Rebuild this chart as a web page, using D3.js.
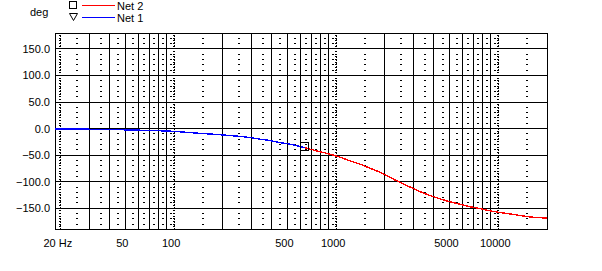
<!DOCTYPE html>
<html><head><meta charset="utf-8">
<script src="https://cdn.jsdelivr.net/npm/d3@7/dist/d3.min.js"></script>
<style>
body{margin:0;background:#fff}
svg{display:block}
text{font-family:"Liberation Sans",Arial,sans-serif;font-size:11px;fill:#000}
</style>
</head><body>
<svg id="c" width="602" height="271"></svg>
<script>
// ---- data ----
const net1Freq = [18.4, 38.6, 69, 100, 131, 197, 294, 339, 390, 449, 518, 597, 640];
const net1Deg  = [-0.5, -1.5, -3.4, -5.3, -8, -11.8, -16.9, -19.9, -22.6, -26.3, -29.3, -33.8, -36];
const net2Freq = [640, 757, 914, 1054, 1215, 1400, 1614, 1950, 2246, 2700, 3281, 3784, 4359, 5023, 5794, 6672, 7691, 8868, 10214, 11776, 13580, 15640, 20000];
const net2Deg  = [-36, -41.9, -48.1, -53.8, -60.7, -66.9, -74.5, -85, -95, -106.5, -118.4, -125.9, -132.2, -137.7, -142.5, -147, -150.6, -154.7, -157.9, -160.6, -163.5, -166.2, -168.4];
const xTickVals   = [20, 50, 100, 500, 1000, 5000, 10000];
const xTickLabels = ["20 Hz", "50", "100", "500", "1000", "5000", "10000"];
const yTickVals   = [150, 100, 50, 0, -50, -100, -150];
const solidFreqs  = [30,40,50,60,70,80,90,200,300,400,500,600,700,800,900,2000,3000,4000,5000,6000,7000,8000,9000];
const minorFreqs  = [25,35,45,55,65,75,85,95,150,250,350,450,550,650,750,850,950,1500,2500,3500,4500,5500,6500,7500,8500,9500,15000];
const denseFreqs  = [20,100,1000,10000];
const seriesNames = ["Net 2", "Net 1"];
const seriesColors = ["#ff0000", "#0000ff"];
const xDomain = [18.4, 20000];
const yDomain = [-190, 180];

// ---- chart ----
const svg = d3.select("#c");
const x = d3.scaleLog().domain(xDomain).range([55, 547]);
const y = d3.scaleLinear().domain(yDomain).range([229.5, 33]);
const px = v => Math.floor(v) + 0.5;
const [x0, x1] = x.range();
const yTop = y(yDomain[1]), yBot = y(yDomain[0]);

const grid = svg.append("g").attr("shape-rendering", "crispEdges");

// minor dotted lines: small dashes every 10 deg
const minorYs = d3.range(-180, 180, 10).filter(v => v % 50 !== 0);
minorFreqs.forEach(f => {
  minorYs.forEach(v => {
    grid.append("rect").attr("x", Math.floor(x(f))).attr("y", Math.floor(y(v)))
      .attr("width", 2).attr("height", 1).attr("fill", "#000");
  });
});
// dense lines (decades/start)
const denseYs = d3.range(-185, 180, 5).filter(v => v % 50 !== 0);
denseFreqs.forEach(f => {
  grid.append("line").attr("x1", px(x(f))).attr("x2", px(x(f)))
    .attr("y1", yTop).attr("y2", yBot).attr("stroke", "#000")
    .attr("stroke-width", 1).attr("stroke-dasharray", "1,2");
  denseYs.forEach(v => {
    grid.append("rect").attr("x", Math.floor(x(f)) - 1).attr("y", Math.floor(y(v)))
      .attr("width", 2).attr("height", 1).attr("fill", "#000");
  });
});
// solid vertical lines
grid.selectAll(".vs").data(solidFreqs).join("line")
  .attr("x1", d => px(x(d))).attr("x2", d => px(x(d)))
  .attr("y1", yTop).attr("y2", yBot).attr("stroke", "#000");
// horizontal lines
grid.selectAll(".hs").data(yTickVals).join("line")
  .attr("x1", x0).attr("x2", x1)
  .attr("y1", d => px(y(d))).attr("y2", d => px(y(d))).attr("stroke", "#000");
// frame
grid.append("rect").attr("x", px(x0)).attr("y", px(yTop))
  .attr("width", Math.floor(x1) - Math.floor(x0)).attr("height", Math.floor(yBot) - Math.floor(yTop))
  .attr("fill", "none").attr("stroke", "#000");

// y labels
svg.selectAll(".yl").data(yTickVals).join("text")
  .attr("x", 50).attr("y", d => y(d) + 4).attr("text-anchor", "end")
  .text(d => d3.format(".1f")(d));
// x labels
svg.selectAll(".xl").data(xTickVals).join("text")
  .attr("x", d => x(d) - 3).attr("y", 247).attr("text-anchor", "middle")
  .text((d, i) => xTickLabels[i]);

// curves
const line = d3.line().x(d => x(d[0])).y(d => y(d[1])).curve(d3.curveMonotoneX);
svg.append("path").datum(net1Freq.map((f, i) => [f, net1Deg[i]]))
  .attr("d", line).attr("fill", "none").attr("stroke", seriesColors[1])
  .attr("stroke-width", 1.4).attr("shape-rendering", "crispEdges");
svg.append("path").datum(net2Freq.map((f, i) => [f, net2Deg[i]]))
  .attr("d", line).attr("fill", "none").attr("stroke", seriesColors[0])
  .attr("stroke-width", 1.4).attr("shape-rendering", "crispEdges");
// square marker at start of Net 2
svg.append("rect").attr("x", Math.floor(x(net2Freq[0])) - 3.5).attr("y", Math.floor(y(net2Deg[0])) - 4.5)
  .attr("width", 8).attr("height", 8).attr("fill", "none").attr("stroke", "#000")
  .attr("shape-rendering", "crispEdges");

// legend
svg.append("text").attr("x", 30).attr("y", 16).text("deg");
const lg = svg.append("g").attr("shape-rendering", "crispEdges");
lg.append("rect").attr("x", 69.5).attr("y", 1.5).attr("width", 7).attr("height", 7)
  .attr("fill", "none").attr("stroke", "#000");
lg.append("line").attr("x1", 82).attr("x2", 115).attr("y1", 5.5).attr("y2", 5.5).attr("stroke", seriesColors[0]);
svg.append("text").attr("x", 117).attr("y", 10).text(seriesNames[0]);
svg.append("path").attr("d", "M69.5,13.5 L77.5,13.5 L73.5,20.5 Z").attr("fill", "none").attr("stroke", "#000");
lg.append("line").attr("x1", 82).attr("x2", 115).attr("y1", 17.5).attr("y2", 17.5).attr("stroke", seriesColors[1]);
svg.append("text").attr("x", 117).attr("y", 22).text(seriesNames[1]);
</script>
</body></html>
